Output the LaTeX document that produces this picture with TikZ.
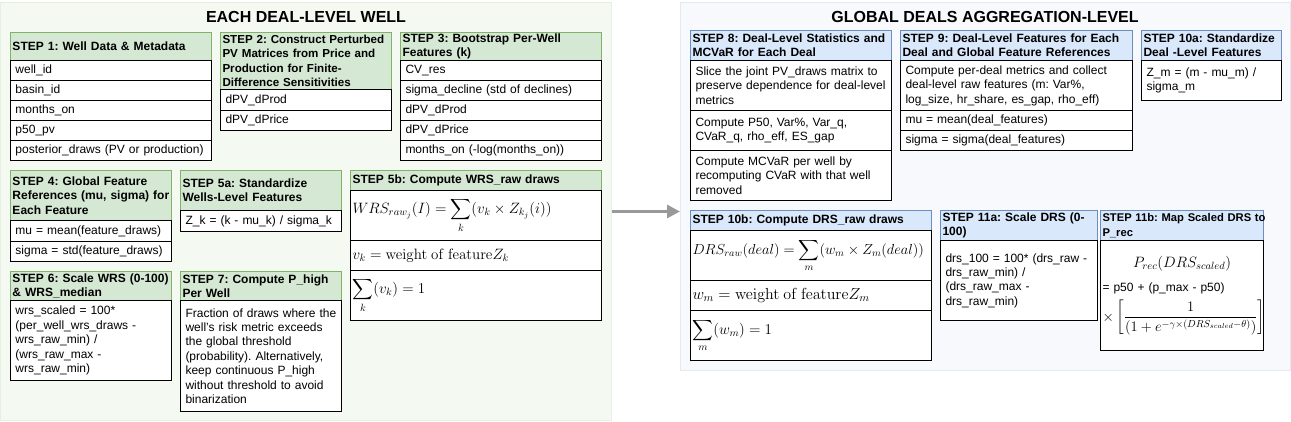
\RequirePackage{fix-cm}
\documentclass[tikz,border=0pt]{standalone}
\usepackage[no-math]{fontspec}
\setsansfont{Liberation Sans}
\usepackage{amsmath}
\usepackage{color}
\usetikzlibrary{arrows.meta}

\definecolor{hdrgreen}{HTML}{D5E8D4}
\definecolor{edgegreen}{HTML}{82B366}
\definecolor{hdrblue}{HTML}{DAE8FC}
\definecolor{edgeblue}{HTML}{6C8EBF}
\definecolor{wellbg}{HTML}{F4F9F1}
\definecolor{wellline}{HTML}{E6EFE2}
\definecolor{dealbg}{HTML}{F7F9FC}
\definecolor{dealline}{HTML}{E3E9F1}
\definecolor{arrowgray}{HTML}{999999}

\newcommand{\mathsz}[1]{\fontsize{#1}{#1}\selectfont}

\tikzset{
  panel/.style={anchor=north west, inner sep=0pt, line width=1pt},
  title/.style={font=\sffamily\bfseries\fontsize{16}{19}\selectfont, inner sep=0pt},
  hdr/.style={anchor=north west, line width=1pt, inner xsep=2pt, inner ysep=0pt, align=left,
    font=\sffamily\bfseries\fontsize{12}{14.4}\selectfont},
  hdrg/.style={hdr, draw=edgegreen, fill=hdrgreen},
  hdrb/.style={hdr, draw=edgeblue, fill=hdrblue},
  cell/.style={draw=black, fill=white, anchor=north west, line width=1pt, inner xsep=5pt, inner ysep=0pt,
    align=left, font=\sffamily\fontsize{12}{14.4}\selectfont},
  mcell/.style={cell, inner xsep=2pt},
  flow/.style={draw=arrowgray, line width=3pt, -{Triangle[length=13pt,width=13pt]}}
}

\begin{document}
\frenchspacing
\begin{tikzpicture}[x=1pt,y=-1pt]
\useasboundingbox (0,0) rectangle (1291,421);

% the two stages
\node[panel, draw=wellline, fill=wellbg, minimum width=611pt, minimum height=418pt] (wellpanel) at (0,2) {};
\node[panel, draw=dealline, fill=dealbg, minimum width=610pt, minimum height=368pt] (dealpanel) at (680,2) {};
\node[title] (welltitle) at (306,17) {EACH DEAL-LEVEL WELL};
\node[title] (dealtitle) at (985,17) {GLOBAL DEALS AGGREGATION-LEVEL};

% step 1
\node[hdrg, text width=197pt, minimum height=28pt] (s1h) at (10,32) {STEP 1: Well Data \& Metadata};
\node[cell, text width=191pt, minimum height=20pt] (s1a) at (10,60) {well\_id};
\node[cell, text width=191pt, minimum height=20pt] (s1b) at (10,80) {basin\_id};
\node[cell, text width=191pt, minimum height=20pt] (s1c) at (10,100) {months\_on};
\node[cell, text width=191pt, minimum height=20pt] (s1d) at (10,120) {p50\_pv};
\node[cell, text width=191pt, minimum height=20pt] (s1e) at (10,140) {posterior\_draws (PV or production)};

% step 2
\node[hdrg, font=\sffamily\bfseries\fontsize{11.6}{14.4}\selectfont, text width=167pt, minimum height=57pt] (s2h) at (220,32) {STEP 2: Construct Perturbed\\PV Matrices from Price and\\Production for Finite-\\Difference Sensitivities};
\node[cell, text width=161pt, minimum height=21pt] (s2a) at (220,89) {dPV\_dProd};
\node[cell, text width=161pt, minimum height=20pt] (s2b) at (220,110) {dPV\_dPrice};

% step 3
\node[hdrg, text width=197pt, minimum height=28pt] (s3h) at (400,32) {STEP 3: Bootstrap Per-Well\\Features (k)};
\node[cell, text width=191pt, minimum height=20pt] (s3a) at (400,60) {CV\_res};
\node[cell, text width=191pt, minimum height=20pt] (s3b) at (400,80) {sigma\_decline (std of declines)};
\node[cell, text width=191pt, minimum height=20pt] (s3c) at (400,100) {dPV\_dProd};
\node[cell, text width=191pt, minimum height=20pt] (s3d) at (400,120) {dPV\_dPrice};
\node[cell, text width=191pt, minimum height=20pt] (s3e) at (400,140) {months\_on (-log(months\_on))};

% step 4
\node[hdrg, text width=157pt, minimum height=50pt] (s4h) at (10,170) {STEP 4: Global Feature\\References (mu, sigma) for\\Each Feature};
\node[cell, text width=151pt, minimum height=21pt] (s4a) at (10,220) {mu = mean(feature\_draws)};
\node[cell, text width=151pt, minimum height=20pt] (s4b) at (10,241) {sigma = std(feature\_draws)};

% step 5a
\node[hdrg, text width=157pt, minimum height=40pt] (s5ah) at (180,170) {STEP 5a: Standardize\\Wells-Level Features};
\node[cell, text width=151pt, minimum height=21pt] (s5aa) at (180,210) {Z\_k = (k - mu\_k) / sigma\_k};

% step 5b
\node[hdrg, text width=247pt, minimum height=20pt] (s5bh) at (350,170) {STEP 5b: Compute WRS\_raw draws};
\node[mcell, text width=247pt, minimum height=50pt] (s5ba) at (350,190) {\mathsz{15}$\displaystyle WRS_{raw_j}(I) = \sum_k (v_k \times Z_{k_j}(i))$};
\node[mcell, text width=247pt, minimum height=30pt] (s5bb) at (350,240) {\mathsz{15}$v_k = \mathrm{weight\ of\ feature} Z_k$};
\node[mcell, text width=247pt, minimum height=50pt] (s5bc) at (350,270) {\mathsz{15}$\displaystyle \sum_k (v_k) = 1$};

% step 6
\node[hdrg, text width=157pt, minimum height=29pt] (s6h) at (10,271) {STEP 6: Scale WRS (0-100)\\\& WRS\_median};
\node[cell, text width=151pt, minimum height=80pt] (s6a) at (10,300) {wrs\_scaled = 100*\\(per\_well\_wrs\_draws -\\wrs\_raw\_min) /\\(wrs\_raw\_max -\\wrs\_raw\_min)};

% step 7
\node[hdrg, text width=157pt, minimum height=29pt] (s7h) at (180,271) {STEP 7: Compute P\_high\\Per Well};
\node[cell, text width=151pt, minimum height=111pt] (s7a) at (180,300) {Fraction of draws where the\\well's risk metric exceeds\\the global threshold\\(probability). Alternatively,\\keep continuous P\_high\\without threshold to avoid\\binarization};

% step 8
\node[hdrb, text width=197pt, minimum height=30pt] (s8h) at (690,30) {STEP 8: Deal-Level Statistics and\\MCVaR for Each Deal};
\node[cell, text width=191pt, minimum height=50pt] (s8a) at (690,60) {Slice the joint PV\_draws matrix to\\preserve dependence for deal-level\\metrics};
\node[cell, text width=191pt, minimum height=40pt] (s8b) at (690,110) {Compute P50, Var\%, Var\_q,\\CVaR\_q, rho\_eff, ES\_gap};
\node[cell, text width=191pt, minimum height=50pt] (s8c) at (690,150) {Compute MCVaR per well by\\recomputing CVaR with that well\\removed};

% step 9
\node[hdrb, text width=228pt, minimum height=30pt] (s9h) at (900,30) {STEP 9: Deal-Level Features for Each\\Deal and Global Feature References};
\node[cell, text width=222pt, minimum height=50pt] (s9a) at (900,60) {Compute per-deal metrics and collect\\deal-level raw features (m: Var\%,\\log\_size, hr\_share, es\_gap, rho\_eff)};
\node[cell, text width=222pt, minimum height=20pt] (s9b) at (900,110) {mu = mean(deal\_features)};
\node[cell, text width=222pt, minimum height=20pt] (s9c) at (900,130) {sigma = sigma(deal\_features)};

% step 10a
\node[hdrb, text width=136pt, minimum height=30pt] (s10ah) at (1141,30) {STEP 10a: Standardize\\Deal -Level Features};
\node[cell, text width=130pt, minimum height=40pt] (s10aa) at (1141,60) {Z\_m = (m - mu\_m) /\\sigma\_m};

% step 10b
\node[hdrb, text width=237pt, minimum height=20pt] (s10bh) at (690,210) {STEP 10b: Compute DRS\_raw draws};
\node[mcell, text width=237pt, minimum height=50pt] (s10ba) at (690,230) {\mathsz{14.5}$\displaystyle DRS_{raw}(deal) = \sum_m (w_m \times Z_m(deal))$};
\node[mcell, text width=237pt, minimum height=30pt] (s10bb) at (690,280) {\mathsz{16}$w_m = \mathrm{weight\ of\ feature} Z_m$};
\node[mcell, text width=237pt, minimum height=50pt] (s10bc) at (690,310) {\mathsz{15}$\displaystyle \sum_m (w_m) = 1$};

% step 11a
\node[hdrb, text width=153pt, minimum height=30pt] (s11ah) at (940,210) {STEP 11a: Scale DRS (0-\\100)};
\node[cell, text width=147pt, minimum height=80pt] (s11aa) at (940,240) {drs\_100 = 100* (drs\_raw -\\drs\_raw\_min) /\\(drs\_raw\_max -\\drs\_raw\_min)};

% step 11b
\node[hdrb, font=\sffamily\bfseries\fontsize{11.2}{14.4}\selectfont, text width=159pt, minimum height=30pt] (s11bh) at (1100,210) {\mbox{STEP 11b: Map Scaled DRS to}\\P\_rec};
\node[mcell, text width=159pt, minimum height=110pt] (s11ba) at (1100,240) {{\mathsz{15}\centering $P_{rec}(DRS_{scaled})$\par}
  \vspace{10pt}
  = p50 + (p\_max - p50)\par
  \vspace{5pt}
  {\mathsz{14.5}$\times \left[\dfrac{1}{(1+e^{-\gamma\times(DRS_{scaled}-\theta)})}\right]$\par}};

% hand-over between the stages
\draw[flow] (wellpanel.east) -- (wellpanel.east -| dealpanel.west);

\end{tikzpicture}
\end{document}
